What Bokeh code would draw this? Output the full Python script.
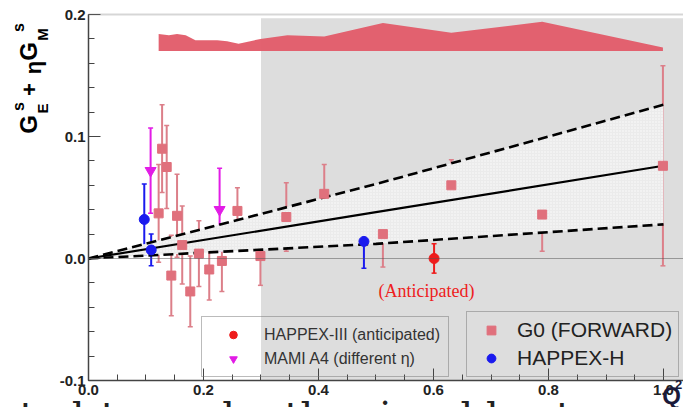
import math
from bokeh.plotting import figure
from bokeh.models import (ColumnDataSource, Whisker, TeeHead, BoxAnnotation,
                          Legend, LegendItem, Label, FixedTicker, PrintfTickFormatter, Range1d)
from bokeh.embed import file_html
from bokeh.resources import INLINE

# ---------------- data ----------------
g0_q2 = [0.122, 0.128, 0.136, 0.144, 0.154, 0.163, 0.177, 0.192, 0.210, 0.232,
         0.259, 0.299, 0.344, 0.410, 0.512, 0.631, 0.789, 0.999]
g0_val = [0.037, 0.090, 0.075, -0.014, 0.035, 0.011, -0.027, 0.004, -0.009, -0.002,
          0.039, 0.002, 0.034, 0.053, 0.020, 0.060, 0.036, 0.076]
g0_err = [0.040, 0.036, 0.034, 0.033, 0.034, 0.032, 0.029, 0.027, 0.025, 0.025,
          0.019, 0.024, 0.028, 0.024, 0.027, 0.021, 0.030, 0.082]

hh_q2 = [0.097, 0.109, 0.479]
hh_val = [0.032, 0.007, 0.014]
hh_err = [0.029, 0.013, 0.022]

mami_q2 = [0.108, 0.228]
mami_val = [0.072, 0.040]
mami_err = [0.035, 0.034]

h3_q2 = [0.601]
h3_val = [0.000]
h3_err = [0.012]

fit_q2 = [0.0, 0.5, 1.0]
fit_central = [0.0, 0.038, 0.076]
fit_upper = [0.0, 0.061, 0.126]
fit_lower = [0.0, 0.012, 0.028]

sys_q2 = [0.122, 0.140, 0.154, 0.169, 0.186, 0.224, 0.241, 0.261, 0.299, 0.346,
          0.410, 0.512, 0.631, 0.789, 0.999]
sys_top = [0.184, 0.183, 0.184, 0.183, 0.179, 0.179, 0.178, 0.176, 0.180, 0.183,
           0.182, 0.193, 0.185, 0.194, 0.173]
sys_base = 0.170

shade_start = 0.3
anticipated_pos = (0.588, -0.027)

x_axis = (0.0, 1.0348)
y_axis = (-0.1, 0.2)
x_ticks = [0.0, 0.2, 0.4, 0.6, 0.8, 1.0]
x_minor = [round(0.05 * i, 2) for i in range(0, 21)]
y_ticks = [-0.1, 0.0, 0.1, 0.2]
y_minor = [round(-0.1 + 0.02 * i, 2) for i in range(0, 16)]

# ---------------- colours ----------------
C_G0 = "#e0707c"
C_G0_BAR = "#dc7f89"
C_HH = "#1a1aee"
C_MAMI = "#e21ce6"
C_H3 = "#ee1c1c"
C_SYS = "#e25a68"

W, H = 683, 407
# frame covers the whole canvas; axes are pinned inside it
p = figure(width=W, height=H, x_range=Range1d(-0.15304, 1.03478), y_range=Range1d(-0.12213, 0.21148),
           output_backend="svg", toolbar_location=None, title=None,
           min_border_left=0, min_border_right=0, min_border_top=0, min_border_bottom=0)
p.background_fill_color = "white"
p.border_fill_color = "white"
p.outline_line_color = None
p.xgrid.grid_line_color = None
p.ygrid.grid_line_color = None

# shaded region
p.add_layout(BoxAnnotation(left=shade_start, bottom=y_axis[0], top=0.197, fill_color="#dddddd",
                           fill_alpha=1.0, line_color=None, level="underlay"))

# fit band (hatched) and lines
p.varea(x=fit_q2, y1=fit_lower, y2=fit_upper, fill_color="#ebebeb", fill_alpha=1.0,
        hatch_pattern=".", hatch_color="white", hatch_scale=3, hatch_alpha=0.9)

# zero line and top frame line
p.add_layout(BoxAnnotation(left=x_axis[0], bottom=0.0, top=0.0, fill_alpha=0,
                           line_color="#555555", line_width=1))
p.add_layout(BoxAnnotation(left=x_axis[0], bottom=y_axis[1], top=y_axis[1], fill_alpha=0,
                           line_color="#777777", line_width=2))

p.line(fit_q2, fit_upper, line_color="black", line_width=2.6, line_dash="10 5")
p.line(fit_q2, fit_lower, line_color="black", line_width=2.6, line_dash="10 5")
p.line(fit_q2, fit_central, line_color="black", line_width=2.2)

# systematic band at top
p.varea(x=sys_q2, y1=[sys_base] * len(sys_q2), y2=sys_top, fill_color=C_SYS, fill_alpha=0.95)


def errs(xs, ys, es, color, width=2):
    src = ColumnDataSource(dict(x=xs, lo=[y - e for y, e in zip(ys, es)],
                                hi=[y + e for y, e in zip(ys, es)]))
    w = Whisker(source=src, base="x", lower="lo", upper="hi", line_color=color, line_width=width,
                upper_head=TeeHead(size=5, line_color=color, line_width=1.5),
                lower_head=TeeHead(size=5, line_color=color, line_width=1.5))
    p.add_layout(w)


errs(g0_q2, g0_val, g0_err, C_G0_BAR)
errs(hh_q2, hh_val, hh_err, C_HH)
errs(mami_q2, mami_val, mami_err, C_MAMI)
errs(h3_q2, h3_val, h3_err, C_H3)

r_g0 = p.scatter(g0_q2, g0_val, marker="square", size=9, fill_color=C_G0, line_color=C_G0)
r_hh = p.scatter(hh_q2, hh_val, marker="circle", size=10, fill_color=C_HH, line_color=C_HH)
r_mami = p.scatter(mami_q2, mami_val, marker="inverted_triangle", size=11, fill_color=C_MAMI,
                   line_color=C_MAMI)
r_h3 = p.scatter(h3_q2, h3_val, marker="circle", size=10, fill_color=C_H3, line_color=C_H3)

p.add_layout(Label(x=anticipated_pos[0], y=anticipated_pos[1], text="(Anticipated)",
                   text_font="Liberation Serif", text_font_size="18px", text_color="#ee2020",
                   text_align="center", text_baseline="middle"))

# axes pinned at x=0 and y=-0.1
xa, ya = p.xaxis[0], p.yaxis[0]
xa.fixed_location = y_axis[0]
ya.fixed_location = x_axis[0]
xa.bounds = x_axis
ya.bounds = y_axis
for ax in (xa, ya):
    ax.major_tick_in = 12
    ax.major_tick_out = 0
    ax.minor_tick_in = 6
    ax.minor_tick_out = 0
    ax.axis_line_color = "#444444"
    ax.axis_line_width = 1.5
    ax.major_tick_line_color = "#444444"
    ax.minor_tick_line_color = "#444444"
    ax.major_label_text_font = "Liberation Sans"
    ax.major_label_text_font_style = "bold"
    ax.major_label_text_font_size = "15px"
    ax.major_label_text_color = "#222222"
    ax.formatter = PrintfTickFormatter(format="%.1f")
xa.ticker = FixedTicker(ticks=x_ticks, minor_ticks=x_minor)
ya.ticker = FixedTicker(ticks=y_ticks, minor_ticks=y_minor)
xa.major_label_standoff = 4
ya.major_label_standoff = 3


def lab(text, px, py, fs, font="Liberation Sans", style="bold", color="black",
        angle=0.0, align="center", baseline="middle"):
    # px, py: position in the picture, converted to frame screen units (origin bottom-left)
    p.add_layout(Label(x=px, y=H - py, x_units="screen", y_units="screen", text=text,
                       angle=angle, text_font=font, text_font_style=style, text_font_size=fs,
                       text_color=color, text_align=align, text_baseline=baseline))


# y-axis label composed of pieces (rotated)
rot = math.pi / 2
lab("G", 28, 124, "24px", angle=rot)
lab("E", 42, 108, "15px", angle=rot)
lab("s", 18, 106, "16px", angle=rot)
lab("+", 29, 89, "22px", angle=rot)
lab("\u03b7", 33, 67, "22px", angle=rot)
lab("G", 28, 51, "24px", angle=rot)
lab("M", 42, 34, "15px", angle=rot)
lab("s", 18, 27, "16px", angle=rot)

# caption fragment at the bottom (cut by the picture edge, as in the source)
lab("motivated", 84, 415, "40px", font="DejaVu Serif", style="normal", color="#222222",
    align="right", baseline="alphabetic")
lab("to probe the", 100, 415, "40px", font="DejaVu Serif", style="normal", color="#222222",
    align="left", baseline="alphabetic")
lab("sizeable strange", 358, 415, "40px", font="DejaVu Serif", style="normal", color="#222222",
    align="left", baseline="alphabetic")

# x-axis label Q^2
lab("Q", 671, 395, "24px", color="#1a1a3a")
lab("2", 678, 384, "13px", color="#1a1a3a")

# legends (location = bottom-left corner, relative to canvas bottom-left)
leg1 = Legend(items=[LegendItem(label="HAPPEX-III (anticipated)", renderers=[r_h3]),
                     LegendItem(label="MAMI A4 (different \u03b7)", renderers=[r_mami])],
              location=(201, H - 377), orientation="vertical",
              label_text_font="Liberation Sans", label_text_font_size="16px",
              label_text_color="#333333", glyph_width=46, glyph_height=19, label_height=19,
              label_standoff=8, padding=8, spacing=5, margin=0,
              border_line_color="#777777", border_line_width=1, background_fill_alpha=0.0)
leg2 = Legend(items=[LegendItem(label="G0 (FORWARD)", renderers=[r_g0]),
                     LegendItem(label="HAPPEX-H", renderers=[r_hh])],
              location=(466, H - 377), orientation="vertical",
              label_text_font="Liberation Sans", label_text_font_size="21px",
              label_text_color="#222222", glyph_width=36, glyph_height=22, label_height=22,
              label_standoff=8, padding=6, spacing=4, margin=0,
              border_line_color="#777777", border_line_width=1, background_fill_alpha=0.0)
p.add_layout(leg1)
p.add_layout(leg2)

open("out.html", "w").write(file_html(p, INLINE))
